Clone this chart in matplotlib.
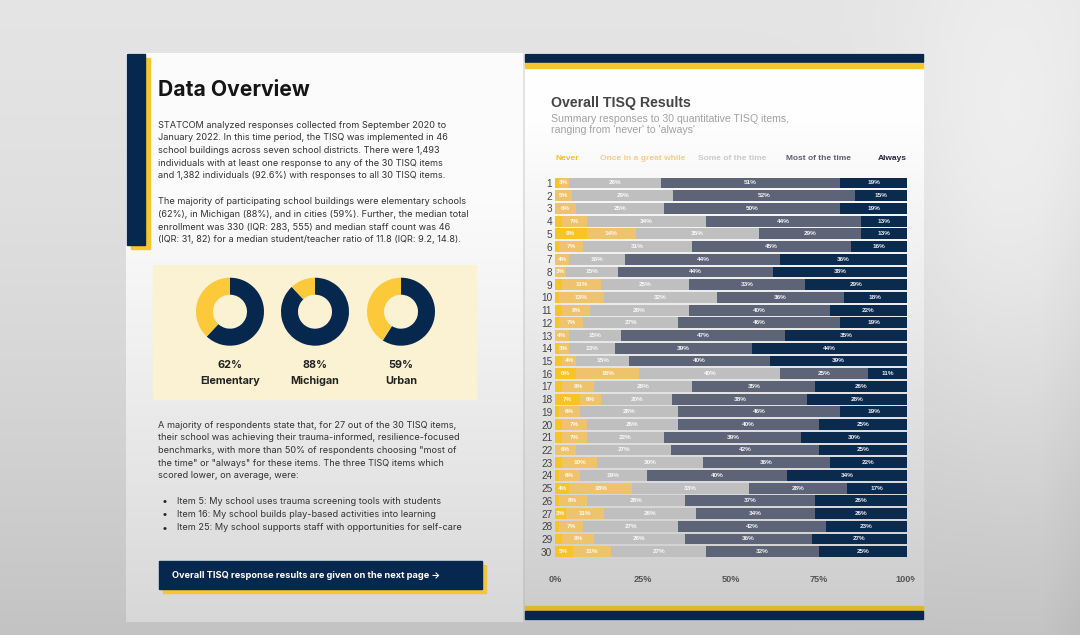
import numpy as np
import matplotlib
matplotlib.use("Agg")
import matplotlib.pyplot as plt
from matplotlib.patches import Rectangle
from matplotlib.transforms import Bbox, TransformedBbox

# ---------------- data ----------------
items = list(range(1, 31))
categories = ["Never", "Once in a great while", "Some of the time", "Most of the time", "Always"]
never  = [1, 0, 0, 2, 9, 1, 0, 0, 2, 1, 2, 1, 0, 1, 2, 6, 2, 7, 1, 2, 2, 0, 2, 1, 4, 1, 3, 1, 2, 5]
once   = [3, 5, 6, 7, 14, 7, 4, 3, 11, 13, 8, 7, 4, 3, 4, 18, 9, 6, 6, 7, 7, 6, 10, 6, 18, 8, 11, 7, 9, 11]
some   = [26, 29, 25, 34, 35, 31, 16, 15, 25, 32, 28, 27, 15, 13, 15, 40, 28, 20, 28, 26, 22, 27, 30, 19, 33, 28, 26, 27, 26, 27]
most   = [51, 52, 50, 44, 29, 45, 44, 44, 33, 36, 40, 46, 47, 39, 40, 25, 35, 38, 46, 40, 39, 42, 36, 40, 28, 37, 34, 42, 36, 32]
always = [19, 15, 19, 13, 13, 16, 36, 38, 29, 18, 22, 19, 35, 44, 39, 11, 26, 28, 19, 25, 30, 25, 22, 34, 17, 26, 26, 23, 27, 25]
xtick_vals = [0, 25, 50, 75, 100]
xtick_labels = ["0%", "25%", "50%", "75%", "100%"]

donut_values = [62, 88, 59]
donut_names = ["Elementary", "Michigan", "Urban"]

para1 = ["STATCOM analyzed responses collected from September 2020 to",
         "January 2022. In this time period, the TISQ was implemented in 46",
         "school buildings across seven school districts. There were 1,493",
         "individuals with at least one response to any of the 30 TISQ items",
         "and 1,382 individuals (92.6%) with responses to all 30 TISQ items."]
para2 = ["The majority of participating school buildings were elementary schools",
         "(62%), in Michigan (88%), and in cities (59%). Further, the median total",
         "enrollment was 330 (IQR: 283, 555) and median staff count was 46",
         "(IQR: 31, 82) for a median student/teacher ratio of 11.8 (IQR: 9.2, 14.8)."]
para3 = ["A majority of respondents state that, for 27 out of the 30 TISQ items,",
         "their school was achieving their trauma-informed, resilience-focused",
         "benchmarks, with more than 50% of respondents choosing \"most of",
         "the time\" or \"always\" for these items. The three TISQ items which",
         "scored lower, on average, were:"]
bullets = ["Item 5: My school uses trauma screening tools with students",
           "Item 16: My school builds play-based activities into learning",
           "Item 25: My school supports staff with opportunities for self-care"]

# ---------------- style ----------------
NAVY = "#07284e"
YEL = "#f7c62c"
seg_colors = ["#f7c325", "#efc36c", "#bfbfbf", "#5d6478", "#0a2a4e"]
legend_colors = ["#f4c12e", "#f0cf83", "#cacaca", "#5c6070", "#23273a"]
BODY = ["Inter", "DejaVu Sans"]
CHART = ["Liberation Sans", "DejaVu Sans"]

W, H = 1080, 635
fig = plt.figure(figsize=(W / 100, H / 100), dpi=100)
bg = fig.add_axes([0, 0, 1, 1])
bg.set_xlim(0, W)
bg.set_ylim(H, 0)
bg.axis("off")

# background shading (photo-like lighting)
yy, xx = np.mgrid[0:H, 0:W].astype(float)
img = 0.895 - 0.13 * (yy / H) ** 1.6
img += 0.05 * np.exp(-((xx - 1010) / 110) ** 2 - ((yy - 180) / 260) ** 2)
img -= 0.03 * np.clip((xx - 1040) / 40, 0, 1) * (yy / H)
# left page
lp = (xx >= 126) & (xx <= 522) & (yy >= 53) & (yy <= 621)
img[lp] = (0.985 - 0.14 * np.clip((yy - 200) / 420, 0, 1) ** 1.1)[lp]
# right page
rp = (xx >= 525) & (xx <= 923) & (yy >= 53) & (yy <= 620)
img[rp] = (0.997 - 0.19 * np.clip((yy - 120) / 480, 0, 1) ** 1.0)[rp]
rgb = np.dstack([img, img, img])
bg.imshow(np.clip(rgb, 0, 1), extent=(0, W, H, 0), interpolation="bilinear", zorder=0, aspect="auto")

# left page header bar
bg.add_patch(Rectangle((131, 58), 19, 191, color=YEL, zorder=1))
bg.add_patch(Rectangle((127, 54), 18, 191, color=NAVY, zorder=2))
bg.text(158, 90, "Data Overview", fontsize=15.2, fontweight="bold", family=BODY,
        color="#151515", va="center", ha="left")

fs_body = 6.6
for i, line in enumerate(para1):
    bg.text(158, 125 + i * 12.7, line, fontsize=fs_body, family=BODY, color="#333333", va="center")
for i, line in enumerate(para2):
    bg.text(158, 201.7 + i * 12.75, line, fontsize=fs_body, family=BODY, color="#333333", va="center")

# donut panel
bg.add_patch(Rectangle((153, 265), 323, 134, color="#faf2d2", zorder=1))
centers = [230, 315, 401]
for cx, v, name in zip(centers, donut_values, donut_names):
    dax = fig.add_axes([(cx - 34) / W, 1 - (311.7 + 34) / H, 68 / W, 68 / H])
    dax.pie([v, 100 - v], colors=[NAVY, "#fbc93a"], startangle=90, counterclock=False,
            wedgeprops=dict(width=0.5, edgecolor="none"))
    dax.set_xlim(-1, 1)
    dax.set_ylim(-1, 1)
    dax.set_aspect("auto")
    dax.axis("off")
    bg.text(cx, 365, f"{v}%", fontsize=7.8, fontweight="bold", family=BODY, color="#222222",
            ha="center", va="center")
    bg.text(cx, 381, name, fontsize=7.8, fontweight="bold", family=BODY, color="#222222",
            ha="center", va="center")

for i, line in enumerate(para3):
    bg.text(158, 425 + i * 12.7, line, fontsize=fs_body, family=BODY, color="#333333", va="center")
for i, line in enumerate(bullets):
    y = 501 + i * 13.4
    bg.text(165, y, "\u2022", fontsize=fs_body + 1, family=BODY, color="#222222", va="center", ha="center")
    bg.text(176.7, y, line, fontsize=fs_body, family=BODY, color="#333333", va="center")

# button
bg.add_patch(Rectangle((162.5, 564.5), 323, 28.3, color="#f2c637", zorder=1))
bg.add_patch(Rectangle((159, 560.7), 323, 28.3, color=NAVY, zorder=2))
bg.text(172, 575, "Overall TISQ response results are given on the next page \u2192", fontsize=6.65,
        fontweight="bold", family=BODY, color="white", va="center", zorder=3)

# right page stripes
bg.add_patch(Rectangle((525, 54.3), 398, 8.2, color=NAVY, zorder=1))
bg.add_patch(Rectangle((525, 62.5), 398, 5.8, color=YEL, zorder=1))
bg.add_patch(Rectangle((525, 605.7), 398, 5.0, color="#e0b62c", zorder=1))
bg.add_patch(Rectangle((525, 610.7), 398, 8.6, color=NAVY, zorder=1))

bg.text(551, 103, "Overall TISQ Results", fontsize=10.2, fontweight="bold", family=CHART,
        color="#454545", va="center")
bg.text(551, 119, "Summary responses to 30 quantitative TISQ items,", fontsize=7.6, family=CHART,
        color="#a2a2a2", va="center")
bg.text(551, 130, "ranging from 'never' to 'always'", fontsize=7.6, family=CHART,
        color="#a2a2a2", va="center")

leg_x = [555, 600, 697.7, 786]
for x, lab, c in zip(leg_x, categories[:4], legend_colors[:4]):
    bg.text(x, 158.3, lab, fontsize=6.0, fontweight="bold", family=CHART, color=c, va="center")
bg.text(906.7, 158.3, categories[4], fontsize=6.0, fontweight="bold", family=CHART,
        color=legend_colors[4], va="center", ha="right")

# ---------------- stacked bar chart ----------------
top_px, bot_px = 183 - 6.36, 551.7 + 6.36
ax = fig.add_axes([555 / W, 1 - bot_px / H, 352 / W, (bot_px - top_px) / H])
ax.set_facecolor("none")
series = [never, once, some, most, always]
vals = np.array(series, dtype=float)          # 5 x 30
totals = vals.sum(axis=0)
pct = vals / totals * 100
left = np.zeros(len(items))
for k in range(5):
    ax.barh(items, pct[k], left=left, height=0.86, color=seg_colors[k], edgecolor="none")
    for j, item in enumerate(items):
        if series[k][j] >= 3:
            ax.text(left[j] + pct[k][j] / 2, item, f"{series[k][j]}%", fontsize=4.6,
                    fontweight="bold", family=CHART, color="white", alpha=0.92,
                    ha="center", va="center")
    left += pct[k]

ax.set_xlim(0, 100)
ax.set_ylim(30.5, 0.5)
for s in ax.spines.values():
    s.set_visible(False)
ax.set_yticks(items)
ax.set_yticklabels([str(i) for i in items], fontsize=7.2, family=CHART, color="#444444")
ax.set_xticks(xtick_vals)
ax.set_xticklabels(xtick_labels, fontsize=6.6, fontweight="bold", family=CHART, color="#555555")
ax.tick_params(axis="y", length=0, pad=2)
ax.tick_params(axis="x", length=0, pad=12.5)

clip = TransformedBbox(Bbox([[0, 0], [915 / W, 1]]), fig.transFigure)
for lbl in ax.get_xticklabels():
    lbl.set_clip_box(clip)
    lbl.set_clip_on(True)

fig.savefig("out.png", dpi=100)
